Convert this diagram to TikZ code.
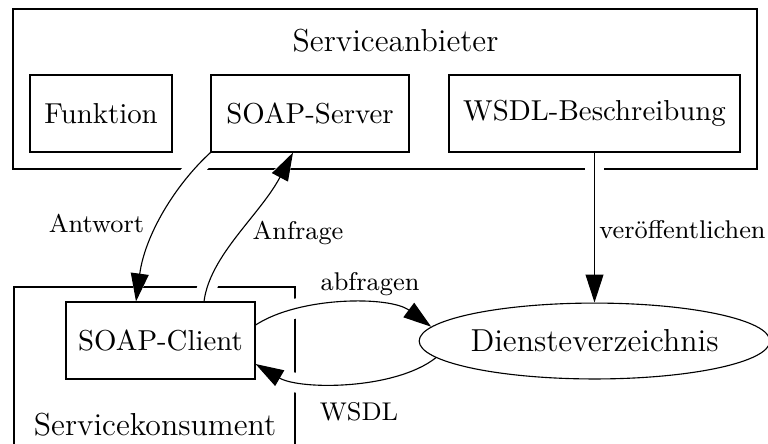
\documentclass[tikz,border=0pt]{standalone}
\usetikzlibrary{arrows.meta,shapes.geometric,calc}
\pgfdeclarelayer{bg}
\pgfdeclarelayer{edgelayer}
\pgfsetlayers{bg,edgelayer,main}
\tikzset{
  box/.style={draw, rectangle, inner sep=0pt, minimum height=27.5pt, font=\fontsize{10.3}{12}\selectfont},
  ellbox/.style={draw, ellipse, inner sep=0pt, minimum width=123.6pt, minimum height=27.1pt, font=\fontsize{11.35}{13}\selectfont},
  cluster/.style={draw, line width=0.4pt},
  ctitle/.style={font=\fontsize{11.35}{13}\selectfont, anchor=base, inner sep=0pt},
  elabel/.style={font=\fontsize{9.15}{11}\selectfont, anchor=base, inner sep=0pt},
  conn/.style={draw, -{Triangle[length=10pt,width=6.4pt]}, preaction={draw=white, line width=7pt}},
}
\begin{document}
\begin{tikzpicture}[x=0.35714pt, y=-0.35714pt]
\useasboundingbox (0,0) rectangle (768,443);
\clip (0,0) rectangle (768,443);

% nodes
\node[box, minimum width=50.7pt] (fn) at (101,113.5) {Funktion};
\node[box, minimum width=70.7pt] (ss) at (310,113.5) {SOAP-Server};
\node[box, minimum width=103.9pt] (wb) at (594.5,113.5) {WSDL-Beschreibung};
\node[box, minimum width=67.5pt] (sc) at (160.5,340.5) {SOAP-Client};
\node[ellbox] (dv) at (594.5,341) {Diensteverzeichnis};

% clusters
\begin{pgfonlayer}{bg}
  \draw[cluster] (13,9) rectangle (757,169);
  \node[ctitle] (t1) at (395.5,51) {Serviceanbieter};
  \draw[cluster] (14,460) -- (14,287) -- (295,287) -- (295,460);
  \node[ctitle] (t2) at (155,435) {Servicekonsument};
\end{pgfonlayer}

% connectors
\begin{pgfonlayer}{edgelayer}
  \path[conn] (ss.south west) .. controls (175,185) and (145,235) .. ($(sc.north)+(-24.5,0)$);
  \path[conn] ($(sc.north)+(43.5,0)$) .. controls (210,255) and (260,215) .. ($(ss.south)+(-17,0)$);
  \path[conn] ($(sc.east)+(0,-15.5)$) .. controls (300,296) and (390,296) .. (dv.175);
  \path[conn] (dv.186) .. controls (395,390) and (300,390) .. ($(sc.east)+(0,23.5)$);
  \path[conn] (wb.south) -- (dv.north);
\end{pgfonlayer}

% connector labels
\node[elabel] (lA) at (96.5,232) {Antwort};
\node[elabel] (lB) at (298,239) {Anfrage};
\node[elabel] (lC) at (682.5,238) {veröffentlichen};
\node[elabel] (lD) at (370,290) {abfragen};
\node[elabel] (lE) at (359,420) {WSDL};
\end{tikzpicture}
\end{document}
